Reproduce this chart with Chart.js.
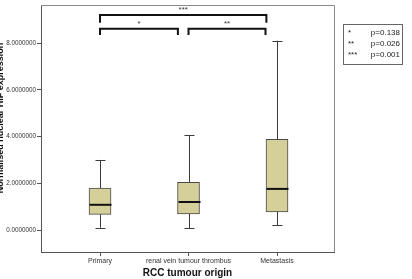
<!DOCTYPE html>
<html>
<head>
<meta charset="utf-8">
<script src="https://cdn.jsdelivr.net/npm/chart.js@4/dist/chart.umd.min.js"></script>
<style>
  html, body { margin: 0; padding: 0; background: #fff; }
  #wrap { position: relative; width: 412px; height: 279px; overflow: hidden; }
  #legendBox {
    position: absolute; left: 343px; top: 24px; width: 58px; height: 39px;
    border: 1px solid #666; font: 8px "Liberation Sans", Arial, sans-serif; color: #222;
  }
  #legendBox div { position: absolute; left: 4px; width: 54px; }
  #legendBox span.p { position: absolute; right: 2px; }
</style>
</head>
<body>
<div id="wrap">
  <canvas id="canvas1" width="412" height="279"></canvas>
  <div id="legendBox">
    <div style="top:3px">*<span class="p">p=0.138</span></div>
    <div style="top:14px">**<span class="p">p=0.026</span></div>
    <div style="top:25px">***<span class="p">p=0.001</span></div>
  </div>
</div>
<script>
'use strict';

// groups
const categories = ['Primary', 'renal vein tumour thrombus', 'Metastasis'];

// box plot values
const mins    = [0.10, 0.08, 0.20];
const q1s     = [0.67, 0.69, 0.78];
const medians = [1.08, 1.20, 1.76];
const q3s     = [1.80, 2.04, 3.88];
const maxs    = [3.00, 4.07, 8.10];

// y axis ticks
const yTicks = [0, 2, 4, 6, 8];

// significance brackets: [from, to, top, legs, label]
const bracketFrom  = [0, 1.0, 0];
const bracketTo    = [0.88, 1.87, 1.88];
const bracketTop   = [8.61, 8.61, 9.20];
const bracketLeg   = [8.35, 8.35, 8.87];
const bracketLabel = ['*', '**', '***'];

const FONT = '"Liberation Sans", Arial, sans-serif';

const boxPlugin = {
    id: 'boxExtras',
    afterDatasetsDraw(chart) {
        let ctx = chart.ctx;
        let xs = chart.scales.x;
        let ys = chart.scales.y;
        let area = chart.chartArea;

        ctx.save();
        // frame top/right
        ctx.strokeStyle = '#8a8a8a';
        ctx.lineWidth = 1;
        ctx.beginPath();
        ctx.moveTo(area.left, area.top + 0.5);
        ctx.lineTo(area.right + 0.5, area.top + 0.5);
        ctx.lineTo(area.right + 0.5, area.bottom);
        ctx.stroke();

        // whiskers and medians
        for (let i = 0; i < categories.length; i++) {
            let cx = Math.round(xs.getPixelForValue(i)) + 0.5;
            ctx.strokeStyle = '#3a3a3a';
            ctx.lineWidth = 1;
            ctx.beginPath();
            ctx.moveTo(cx, ys.getPixelForValue(q3s[i]));
            ctx.lineTo(cx, ys.getPixelForValue(maxs[i]));
            ctx.moveTo(cx, ys.getPixelForValue(q1s[i]));
            ctx.lineTo(cx, ys.getPixelForValue(mins[i]));
            let yt = Math.round(ys.getPixelForValue(maxs[i])) + 0.5;
            let yb = Math.round(ys.getPixelForValue(mins[i])) + 0.5;
            ctx.moveTo(cx - 5, yt); ctx.lineTo(cx + 5, yt);
            ctx.moveTo(cx - 5, yb); ctx.lineTo(cx + 5, yb);
            ctx.stroke();

            ctx.strokeStyle = '#111';
            ctx.lineWidth = 2;
            ctx.beginPath();
            let ym = ys.getPixelForValue(medians[i]);
            ctx.moveTo(cx - 11, ym);
            ctx.lineTo(cx + 11, ym);
            ctx.stroke();
        }

        // brackets
        ctx.strokeStyle = '#111';
        ctx.lineWidth = 2;
        ctx.fillStyle = '#333';
        ctx.font = '8px ' + FONT;
        ctx.textAlign = 'center';
        ctx.textBaseline = 'middle';
        for (let i = 0; i < bracketLabel.length; i++) {
            let x1 = xs.getPixelForValue(bracketFrom[i]);
            let x2 = xs.getPixelForValue(bracketTo[i]);
            let yt = ys.getPixelForValue(bracketTop[i]);
            let yl = ys.getPixelForValue(bracketLeg[i]);
            ctx.beginPath();
            ctx.moveTo(x1, yl);
            ctx.lineTo(x1, yt);
            ctx.lineTo(x2, yt);
            ctx.lineTo(x2, yl);
            ctx.stroke();
            ctx.fillText(bracketLabel[i], (x1 + x2) / 2, yt - 5);
        }

        // y title, partly cut at the left edge like the reference
        ctx.translate(1, 118);
        ctx.rotate(-Math.PI / 2);
        ctx.fillStyle = '#111';
        ctx.font = 'bold 9px ' + FONT;
        ctx.textBaseline = 'middle';
        ctx.fillText('Normalised nuclear HIF expression', 0, 0);
        ctx.restore();
    }
};

let canvas1 = document.querySelector('#canvas1');

let chart1 = new Chart(canvas1, {
    type: 'bar',
    data: {
        datasets: [
            {
                label: 'box',
                data: categories.map((c, i) => ({ x: i, y: [q1s[i], q3s[i]] })),
                backgroundColor: '#d5cf99',
                borderColor: '#4a4a4a',
                borderWidth: 1,
                borderSkipped: false,
                barThickness: 22,
            },
        ],
    },
    options: {
        responsive: false,
        animation: false,
        layout: { padding: { top: 5, right: 78, left: 0, bottom: 0 } },
        plugins: { legend: { display: false }, tooltip: { enabled: false } },
        scales: {
            x: {
                type: 'linear',
                offset: false,
                min: -0.667,
                max: 2.644,
                afterBuildTicks: (s) => { s.ticks = categories.map((c, i) => ({ value: i })); },
                afterFit: (s) => { s.height = 27; },
                ticks: {
                    callback: (v) => categories[v],
                    font: { size: 7, family: FONT },
                    color: '#333',
                    padding: 1,
                    maxRotation: 0,
                    autoSkip: false,
                },
                grid: { offset: false, drawOnChartArea: false, drawTicks: true, tickLength: 4, color: '#555' },
                border: { color: '#555' },
                title: {
                    display: true,
                    text: 'RCC tumour origin',
                    font: { size: 10, weight: 'bold', family: FONT },
                    color: '#111',
                    padding: { top: 2, bottom: 0 },
                },
            },
            y: {
                min: -0.94,
                max: 9.63,
                afterBuildTicks: (s) => { s.ticks = yTicks.map(v => ({ value: v })); },
                afterFit: (s) => { s.width = 41; },
                ticks: {
                    callback: (v) => v.toFixed(7),
                    font: { size: 6.3, family: FONT },
                    color: '#333',
                    padding: 1,
                },
                grid: { drawOnChartArea: false, drawTicks: true, tickLength: 4, color: '#555' },
                border: { color: '#555' },
            },
        },
    },
    plugins: [boxPlugin],
});
</script>
</body>
</html>
